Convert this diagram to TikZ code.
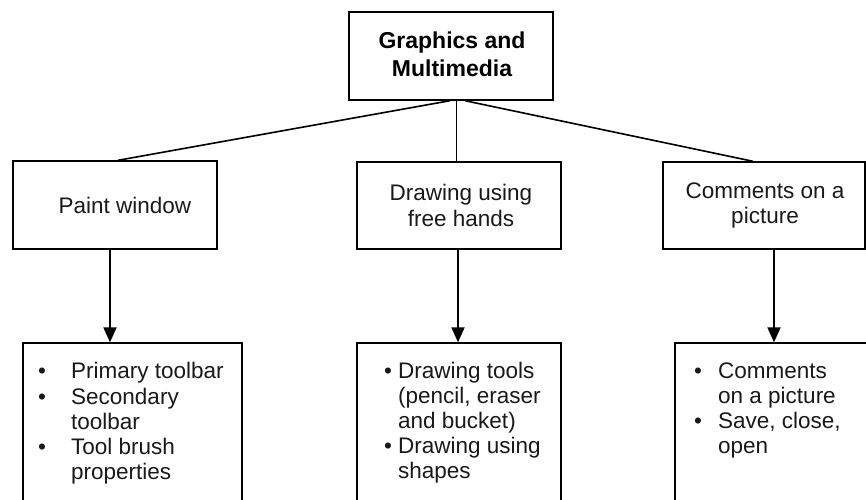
\documentclass[tikz,border=0pt]{standalone}
\usepackage{fontspec}
\setmainfont{Liberation Sans}
\usetikzlibrary{arrows.meta}
\begin{document}
\begin{tikzpicture}[x=1pt,y=-1pt,
  box/.style={draw=black,line width=1.4pt,rectangle,inner sep=0pt},
  txt/.style={inner sep=0pt,font=\fontsize{22.5}{26}\selectfont,text=black!90},
  btxt/.style={inner sep=0pt,font=\fontsize{23}{28}\selectfont\bfseries,text=black},
  link/.style={line width=1.6pt},
  thin/.style={line width=0.9pt},
  arr/.style={line width=1.8pt,-{Triangle[length=15pt,width=13pt]}}]
\clip (0,0) rectangle (866,499);
% boxes
\node[box,minimum width=204pt,minimum height=88pt] (top) at (451,56) {};
\node[box,minimum width=204pt,minimum height=88pt] (pw) at (115,205) {};
\node[box,minimum width=204pt,minimum height=87pt] (dh) at (459,205.5) {};
\node[box,minimum width=202pt,minimum height=87pt] (cp) at (764,205.5) {};
\node[box,minimum width=219pt,minimum height=170pt] (b1) at (132.5,428) {};
\node[box,minimum width=204pt,minimum height=170pt] (b2) at (459,428) {};
\node[box,minimum width=210pt,minimum height=170pt] (b3) at (780,428) {};
% top text
\node[btxt,anchor=base] (t1) at (452,48) {Graphics and};
\node[btxt,anchor=base] (t2) at (452,76) {Multimedia};
% middle texts
\node[txt,anchor=base] (p1) at (125,213) {Paint window};
\node[txt,anchor=base] (d1) at (461,200) {Drawing using};
\node[txt,anchor=base] (d2) at (461,226) {free hands};
\node[txt,anchor=base] (c1) at (765,198) {Comments on a};
\node[txt,anchor=base] (c2) at (765,223) {picture};
% list 1
\node[txt,anchor=base] (u11) at (42,378) {•};
\node[txt,anchor=base] (u12) at (42,404) {•};
\node[txt,anchor=base] (u13) at (42,454) {•};
\node[txt,anchor=base west] (l11) at (71,378) {Primary toolbar};
\node[txt,anchor=base west] (l12) at (71,404) {Secondary};
\node[txt,anchor=base west] (l13) at (71,429) {toolbar};
\node[txt,anchor=base west] (l14) at (71,454) {Tool brush};
\node[txt,anchor=base west] (l15) at (71,479) {properties};
% list 2
\node[txt,anchor=base] (u21) at (388,378) {•};
\node[txt,anchor=base] (u22) at (388,453) {•};
\node[txt,anchor=base west] (l21) at (398,378) {Drawing tools};
\node[txt,anchor=base west] (l22) at (398,403) {(pencil, eraser};
\node[txt,anchor=base west] (l23) at (398,428) {and bucket)};
\node[txt,anchor=base west] (l24) at (398,453) {Drawing using};
\node[txt,anchor=base west] (l25) at (398,478) {shapes};
% list 3
\node[txt,anchor=base] (u31) at (698,378) {•};
\node[txt,anchor=base] (u32) at (698,428) {•};
\node[txt,anchor=base west] (l31) at (718,378) {Comments};
\node[txt,anchor=base west] (l32) at (718,403) {on a picture};
\node[txt,anchor=base west] (l33) at (718,428) {Save, close,};
\node[txt,anchor=base west] (l34) at (718,453) {open};
% connectors
\draw[link] ([xshift=-1pt]top.south) -- ([xshift=3pt]pw.north);
\draw[thin] ([xshift=5pt]top.south) -- ([xshift=5pt]top.south |- dh.north);
\draw[link] ([xshift=14pt]top.south) -- ([xshift=-11pt]cp.north);
\draw[arr] ([xshift=-5pt]pw.south) -- ([xshift=-5pt]pw.south |- b1.north);
\draw[arr] ([xshift=-1pt]dh.south) -- ([xshift=-1pt]dh.south |- b2.north);
\draw[arr] ([xshift=10pt]cp.south) -- ([xshift=10pt]cp.south |- b3.north);
\end{tikzpicture}
\end{document}
